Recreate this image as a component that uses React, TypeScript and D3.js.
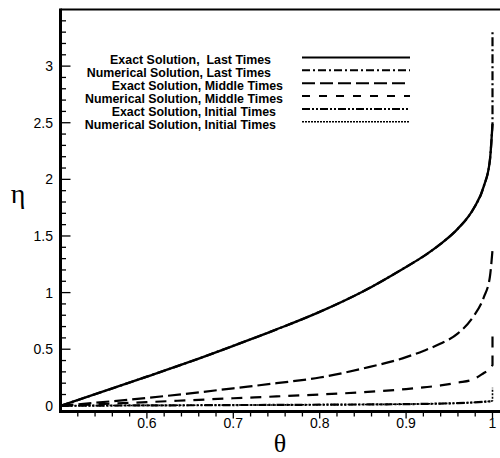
import React from "react";
import * as d3 from "d3";

// ---- data ----
const theta = [0.5, 0.6, 0.65, 0.7, 0.75, 0.8, 0.85, 0.9, 0.92, 0.94, 0.96, 0.978, 0.99, 0.997, 1.0];
const etaLast = [0, 0.258, 0.39, 0.53, 0.675, 0.83, 1.01, 1.227, 1.32, 1.43, 1.565, 1.74, 1.94, 2.17, 2.49];
const etaMiddleExact = [0, 0.07, 0.11, 0.155, 0.2, 0.25, 0.33, 0.43, 0.485, 0.55, 0.64, 0.79, 0.96, 1.14, 1.375];
const etaMiddleNum = [0, 0.033, 0.05, 0.067, 0.083, 0.1, 0.12, 0.148, 0.163, 0.18, 0.205, 0.235, 0.29, 0.325, 0.36];
const etaInitial = [0, 0.004, 0.005, 0.007, 0.008, 0.01, 0.012, 0.015, 0.017, 0.02, 0.024, 0.03, 0.036, 0.04, 0.045];
// numerical solutions end with a vertical jump at theta = 1
const spikeLast = 3.32;
const spikeMiddle = 0.63;
const spikeInitial = 0.16;

const xMajor = [0.6, 0.7, 0.8, 0.9, 1];
const xLabels = ["0.6", "0.7", "0.8", "0.9", "1"];
const yMajor = [0, 0.5, 1, 1.5, 2, 2.5, 3];
const yLabels = ["0", "0.5", "1", "1.5", "2", "2.5", "3"];

const legendLabels = [
  "Exact Solution,  Last Times",
  "Numerical Solution, Last Times",
  "Exact Solution, Middle Times",
  "Numerical Solution, Middle Times",
  "Exact Solution, Initial Times",
  "Numerical Solution, Initial Times",
];

// ---- styles ----
const legendDash = ["", "8,3,2,3", "13,5", "8,9", "8,2,2,2,2,2", "2,1"];
const legendWidth = [2.2, 2, 2, 2, 2, 1.5];
const legendTextEnd = [271, 271, 283, 283, 276, 276];

const W = 500;
const H = 458;
const left = 60.5;
const top = 9.5;
const bottom = 411.5;

export default function App() {
  const x = d3.scaleLinear().domain([0.5, 1.0]).range([left, 492.5]);
  const y = d3.scaleLinear().domain([-0.05, 3.5]).range([bottom, top]);

  const line = d3
    .line<[number, number]>()
    .x((d) => x(d[0]))
    .y((d) => y(d[1]))
    .curve(d3.curveMonotoneX);

  const pts = (vals: number[]) => theta.map((t, i) => [t, vals[i]] as [number, number]);
  const withSpike = (vals: number[], s: number) =>
    (line(pts(vals)) as string) + `L${x(1)},${y(s)}`;

  const xMinor = d3.range(0.52, 1.001, 0.02).filter((v) => !xMajor.some((m) => Math.abs(m - v) < 1e-6));
  const yMinor = d3.range(0.1, 3.45, 0.1).filter((v) => !yMajor.some((m) => Math.abs(m - v) < 1e-6));

  const curves = [
    { d: line(pts(etaLast)) as string, dash: "", w: 2.3 },
    { d: withSpike(etaLast, spikeLast), dash: "9,3,2,3", w: 2.2 },
    { d: line(pts(etaMiddleExact)) as string, dash: "13,5", w: 2.2 },
    { d: withSpike(etaMiddleNum, spikeMiddle), dash: "11,8", w: 2.2 },
    { d: line(pts(etaInitial)) as string, dash: "8,2,2,2,2,2", w: 2.2 },
    { d: withSpike(etaInitial, spikeInitial), dash: "2,1.5", w: 1.6 },
  ];

  const legendY0 = 57.5;
  const legendStep = 12.85;

  return (
    <svg
      width={W}
      height={H}
      style={{ position: "absolute", left: 0, top: 0, background: "#fff" }}
      fontFamily="'Liberation Sans', Arial, sans-serif"
    >
      <rect x={0} y={0} width={W} height={H} fill="#fff" />
      {/* curves */}
      <g fill="none" stroke="#000" strokeLinejoin="round">
        {curves.map((c, i) => (
          <path key={i} d={c.d} strokeWidth={c.w} strokeDasharray={c.dash || undefined} />
        ))}
      </g>

      {/* frame */}
      <line x1={left} x2={W + 2} y1={top} y2={top} stroke="#000" strokeWidth={2} />
      <line x1={left} x2={left} y1={top - 1} y2={bottom + 1.5} stroke="#000" strokeWidth={3} />
      <line x1={left - 1.5} x2={W + 2} y1={bottom} y2={bottom} stroke="#000" strokeWidth={3} />

      {/* y ticks (inward) */}
      <g stroke="#000" strokeWidth={1.3}>
        {yMajor.map((v) => (
          <line key={"ym" + v} x1={left} x2={left + 10} y1={y(v)} y2={y(v)} />
        ))}
        {yMinor.map((v) => (
          <line key={"yn" + v} x1={left} x2={left + 5.5} y1={y(v)} y2={y(v)} />
        ))}
      </g>
      <g fontSize={14} textAnchor="end" fill="#000">
        {yMajor.map((v, i) => (
          <text key={"yl" + v} x={53} y={y(v)} dy="0.36em">
            {yLabels[i]}
          </text>
        ))}
      </g>

      {/* x ticks (outward) */}
      <g stroke="#000" strokeWidth={1.3}>
        {xMajor.map((v) => (
          <line key={"xm" + v} x1={x(v)} x2={x(v)} y1={bottom} y2={bottom + 7} />
        ))}
        {xMinor.map((v) => (
          <line key={"xn" + v.toFixed(2)} x1={x(v)} x2={x(v)} y1={bottom} y2={bottom + 5} />
        ))}
      </g>
      <g fontSize={14} textAnchor="middle" fill="#000">
        {xMajor.map((v, i) => (
          <text key={"xl" + v} x={x(v)} y={428}>
            {xLabels[i]}
          </text>
        ))}
      </g>

      {/* axis titles */}
      <text x={280} y={452} fontSize={26} textAnchor="middle" fontFamily="'Liberation Serif', 'Times New Roman', serif">
        θ
      </text>
      <text x={18} y={203} fontSize={28} textAnchor="middle" fontFamily="'Liberation Serif', 'Times New Roman', serif">
        η
      </text>

      {/* legend */}
      <g>
        {legendLabels.map((lab, i) => {
          const ly = legendY0 + i * legendStep;
          return (
            <g key={lab}>
              <text
                x={legendTextEnd[i]}
                y={ly + 2.5}
                dy="0.35em"
                fontSize={12.4}
                fontWeight="bold"
                textAnchor="end"
                style={{ whiteSpace: "pre" }}
              >
                {lab}
              </text>
              <line
                x1={302}
                x2={410}
                y1={ly}
                y2={ly}
                stroke="#000"
                strokeWidth={legendWidth[i]}
                strokeDasharray={legendDash[i] || undefined}
              />
            </g>
          );
        })}
      </g>
    </svg>
  );
}
